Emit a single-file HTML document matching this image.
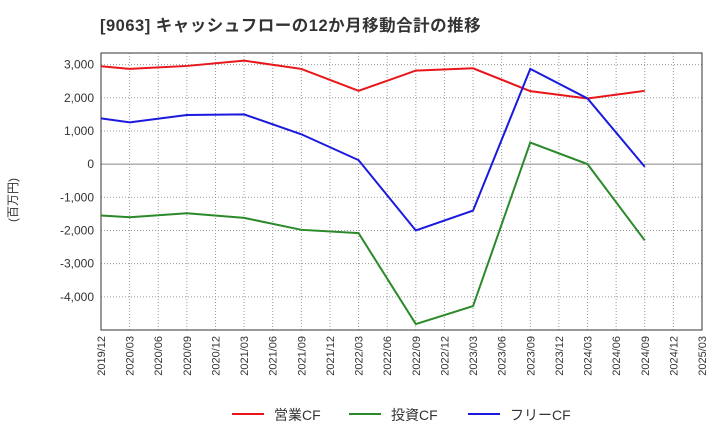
<!DOCTYPE html>
<html><head><meta charset="utf-8"><style>
body{margin:0;background:#fff;font-family:"Liberation Sans","Noto Sans CJK JP",sans-serif;}
</style></head><body>
<svg id="c" width="720" height="440" xmlns="http://www.w3.org/2000/svg">
<text x="100" y="31" font-size="16.5" font-weight="bold" fill="#333" letter-spacing="0.5">[9063]  キャッシュフローの12か月移動合計の推移</text>
<text x="17" y="200" font-size="12" fill="#333" transform="rotate(-90 17 200)" text-anchor="middle">(百万円)</text>
<g id="grid"></g><g id="axes"></g><g id="series"></g>
<g id="legend"></g>
</svg>
<script>
const categories=["2019/12","2020/03","2020/06","2020/09","2020/12","2021/03","2021/06","2021/09","2021/12","2022/03","2022/06","2022/09","2022/12","2023/03","2023/06","2023/09","2023/12","2024/03","2024/06","2024/09","2024/12","2025/03"];
const yTicks=[3000,2000,1000,0,-1000,-2000,-3000,-4000];
const pointIdx=[0,1,3,5,7,9,11,13,15,17,19];
const opCF=[2950,2870,2960,3120,2870,2210,2820,2890,2200,1980,2210];
const invCF=[-1550,-1600,-1480,-1620,-1980,-2080,-4820,-4280,650,0,-2300];
const freeCF=[1380,1260,1480,1500,900,120,-2000,-1400,2870,1980,-80];
const seriesNames=["営業CF","投資CF","フリーCF"];
const colors=["#e8161b","#2a8a2a","#1a1adf"];
const L=101,R=702,T=53,B=330,yMin=-5000,yMax=3350;
const x=i=>L+i*(R-L)/(categories.length-1);
const y=v=>B-(v-yMin)/(yMax-yMin)*(B-T);
const NS="http://www.w3.org/2000/svg";
function mk(t,a,p){const e=document.createElementNS(NS,t);for(const k in a)e.setAttribute(k,a[k]);p.appendChild(e);return e;}
const g=document.getElementById("grid"),ax=document.getElementById("axes"),s=document.getElementById("series"),lg=document.getElementById("legend");
categories.forEach((c,i)=>{
 const l=mk("line",{x1:x(i),x2:x(i),y1:T,y2:B,stroke:"#999","stroke-dasharray":"1,2"},g);
 
 
 const t=mk("text",{x:0,y:0,"font-size":11,fill:"#333","text-anchor":"end",transform:`translate(${x(i)+4},${B+6}) rotate(-90)`},ax);
 t.textContent=c;
 
 
});
yTicks.forEach(v=>{
 const l=mk("line",{x1:L,x2:R,y1:y(v),y2:y(v),stroke:v===0?"#888":"#999","stroke-dasharray":v===0?"":"1,2"},g);
 
 
 const t=mk("text",{x:L-7,y:y(v)+4,"font-size":12,fill:"#333","text-anchor":"end"},ax);
 t.textContent=v.toLocaleString("en-US");
 
 
});
const fr=mk("rect",{x:L,y:T,width:R-L,height:B-T,fill:"none",stroke:"#333"},ax);


[opCF,invCF,freeCF].forEach((d,k)=>{
 const p=mk("polyline",{points:d.map((v,j)=>x(pointIdx[j])+","+y(v)).join(" "),fill:"none",stroke:colors[k],"stroke-width":2},s);
 
 
 const lx=[232,349,468][k];
 const ll=mk("line",{x1:lx,x2:lx+32,y1:414,y2:414,stroke:colors[k],"stroke-width":2},lg);
 
 
 const lt=mk("text",{x:lx+42,y:420,"font-size":14,fill:"#333"},lg);
 lt.textContent=seriesNames[k];
 
 
});
</script>
</body></html>
